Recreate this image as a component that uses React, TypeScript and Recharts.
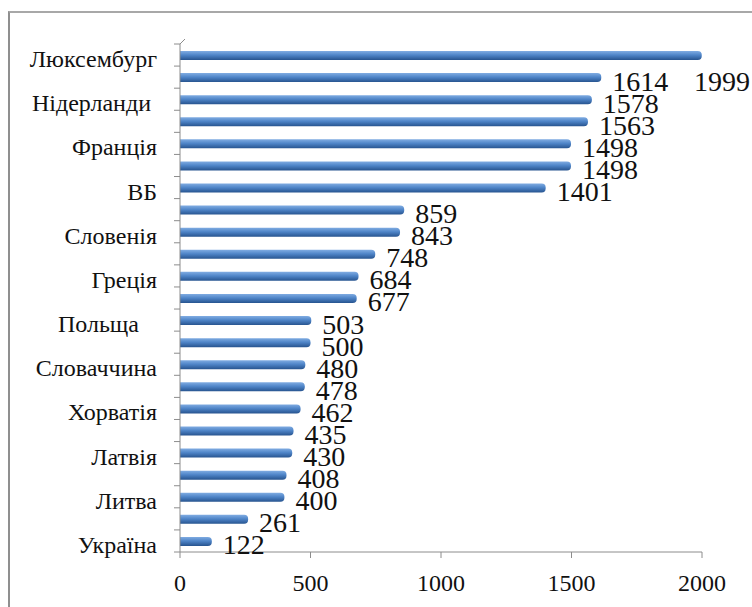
import React from 'react';
import { BarChart, Bar, XAxis, YAxis, LabelList } from 'recharts';

// minimum wage by country, top to bottom as drawn
const countries = [
  'Люксембург', 'Ірландія', 'Нідерланди ', 'Бельгія', 'Франція', 'Німеччина',
  'ВБ', 'Іспанія', 'Словенія', 'Мальта', 'Греція', 'Португалія',
  'Польща   ', 'Естонія', 'Словаччина', 'Чехія', 'Хорватія', 'Угорщина',
  'Латвія', 'Румунія', 'Литва', 'Болгарія', 'Україна',
];
const wages = [
  1999, 1614, 1578, 1563, 1498, 1498, 1401, 859, 843, 748, 684, 677,
  503, 500, 480, 478, 462, 435, 430, 408, 400, 261, 122,
];
const xTicks = [0, 500, 1000, 1500, 2000];

const data = countries.map((country, i) => ({ country, wage: wages[i] }));

const W = 752;
const H = 607;
const MARGIN = { top: 44, right: 50, bottom: 24, left: 0 };
const X_AXIS_H = 31;
const PLOT_H = H - MARGIN.top - MARGIN.bottom - X_AXIS_H;
const BAND = PLOT_H / data.length;
const SERIF = "'Liberation Serif', 'Times New Roman', Tinos, 'DejaVu Serif', serif";
const GREY = '#8c8c8c';

const CountryTick = (props: any) => {
  const { x, y, payload, index } = props;
  const top = y - BAND / 2;
  return (
    <g>
      <line x1={x - 6} y1={top} x2={x} y2={top} stroke={GREY} />
      {index === 0 && <line x1={x} y1={top} x2={x + 5} y2={top - 5} stroke={GREY} />}
      {index === data.length - 1 && (
        <line x1={x - 6} y1={y + BAND / 2} x2={x} y2={y + BAND / 2} stroke={GREY} />
      )}
      {index % 2 === 0 && (
        <text
          x={x - 23}
          y={y + 12}
          textAnchor="end"
          fill="#111"
          style={{ whiteSpace: 'pre', fontFamily: SERIF, fontSize: 24 }}
        >
          {payload.value}
        </text>
      )}
    </g>
  );
};

const WageLabel = (props: any) => {
  const { x, y, width, height, value } = props;
  const textW = String(value).length * 14;
  let tx = x + width + 11;
  let ty = y + height / 2 + 13;
  // Excel pushes a label that would leave the chart back inside and down a row
  if (tx + textW > W - 2) {
    tx = W - 2 - textW;
    ty += BAND;
  }
  return (
    <text x={tx} y={ty} fill="#111" style={{ fontFamily: SERIF, fontSize: 28 }}>
      {value}
    </text>
  );
};

export default function App() {
  return (
    <div style={{ position: 'absolute', left: 0, top: 0, width: W, height: H, background: '#fff', overflow: 'hidden', fontFamily: SERIF }}>
      <div
        style={{
          position: 'absolute', left: 8, top: 11, width: W, height: H,
          borderLeft: '2px solid #8f8f8f', borderTop: '2px solid #a8a8a8',
        }}
      />
      <div style={{ position: 'absolute', left: 0, top: 0 }}>
        <BarChart width={W} height={H} data={data} layout="vertical" margin={MARGIN}>
          <defs>
            <linearGradient id="barGrad" x1="0" y1="0" x2="0" y2="1">
              <stop offset="0%" stopColor="#80acE2" />
              <stop offset="45%" stopColor="#4f85c8" />
              <stop offset="100%" stopColor="#27548f" />
            </linearGradient>
          </defs>
          <XAxis
            type="number"
            domain={[0, 2000]}
            ticks={xTicks}
            height={X_AXIS_H}
            axisLine={{ stroke: GREY }}
            tickLine={{ stroke: GREY }}
            tickMargin={16}
            tick={{ fontSize: 24, fill: '#111', style: { fontFamily: SERIF } }}
          />
          <YAxis
            type="category"
            dataKey="country"
            width={180}
            interval={0}
            tickSize={0}
            tickMargin={0}
            tickLine={false}
            axisLine={{ stroke: GREY }}
            tick={<CountryTick />}
          />
          <Bar dataKey="wage" fill="url(#barGrad)" barSize={9} radius={[0, 4, 4, 0]} isAnimationActive={false}>
            <LabelList dataKey="wage" content={<WageLabel />} />
          </Bar>
        </BarChart>
      </div>
    </div>
  );
}
